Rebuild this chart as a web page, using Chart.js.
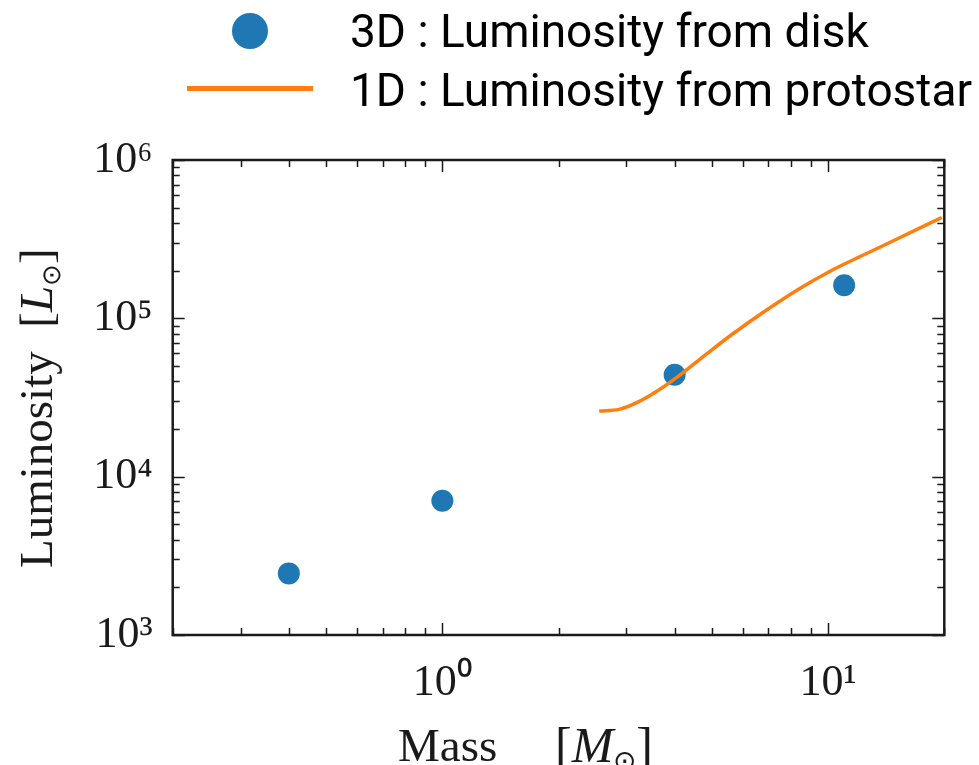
<!DOCTYPE html>
<html>
<head>
<meta charset="utf-8">
<script src="https://cdn.jsdelivr.net/npm/chart.js@4.4.1/dist/chart.umd.min.js"></script>
<style>
  html, body { margin: 0; padding: 0; background: #fff; }
  #wrap { position: relative; width: 979px; height: 765px; overflow: hidden; }
  #grafica { position: absolute; left: 0; top: 0; }
  .leg { position: absolute; font-family: Roboto, sans-serif; font-size: 46px; line-height: 46px; color: #000; white-space: nowrap; }
  .serif { position: absolute; font-family: "Liberation Serif", serif; font-size: 47px; line-height: 47px; color: #1a1a1a; white-space: nowrap; }
  .serif sub { font-size: 0.55em; line-height: 0; vertical-align: -0.3em; }
  #ytitle { left: 13px; top: 568px; transform-origin: 0 0; transform: rotate(-90deg); }
</style>
</head>
<body>
<div id="wrap">
  <canvas id="grafica" width="979" height="765"></canvas>

  <!-- leyenda -->
  <div style="position:absolute; left:232px; top:13px; width:36px; height:36px; border-radius:50%; background:#1f77b4;"></div>
  <div class="leg" style="left:350px; top:8px;">3D : Luminosity from disk</div>
  <div style="position:absolute; left:187px; top:86px; width:126px; height:5px; background:#ff7f0e;"></div>
  <div class="leg" style="left:350px; top:67px;">1D : Luminosity from protostar</div>

  <!-- titulos de ejes -->
  <div class="serif" style="left:398px; top:722px;">Mass</div>
  <div class="serif" style="left:555px; top:720px; font-size:50px; line-height:50px;">[<i>M</i><sub>⊙</sub>]</div>
  <div class="serif" id="ytitle">Luminosity&nbsp;&nbsp;[<i>L</i><sub>⊙</sub>]</div>
</div>

<script>
// Datos: 3D (disco)
const diskMass = [0.4, 1, 4, 11];
const diskLum = [2450, 7050, 44000, 162000];

// Datos: 1D (protoestrella)
const protoMass = [2.55, 2.87, 3.23, 3.64, 4.02, 4.44, 4.86, 5.64, 6.88, 8.40, 10.2, 12.3, 14.8, 19.7];
const protoLum = [26000, 26600, 29800, 35300, 41800, 50400, 60000, 79300, 111600, 153200, 200600, 250200, 310200, 433500];

// Rangos y marcas de los ejes
const xRange = [0.2, 20];
const yRange = [1e3, 1e6];
const xMajorTicks = [1, 10];
const yMajorTicks = [1e3, 1e4, 1e5, 1e6];
const xMinorTicks = [0.2, 0.3, 0.4, 0.5, 0.6, 0.7, 0.8, 0.9, 2, 3, 4, 5, 6, 7, 8, 9, 20];
const yMinorTicks = [2e3, 3e3, 4e3, 5e3, 6e3, 7e3, 8e3, 9e3,
                     2e4, 3e4, 4e4, 5e4, 6e4, 7e4, 8e4, 9e4,
                     2e5, 3e5, 4e5, 5e5, 6e5, 7e5, 8e5, 9e5];

const sup = { '-': '⁻', '0': '⁰', '1': '¹', '2': '²', '3': '³', '4': '⁴', '5': '⁵', '6': '⁶', '7': '⁷', '8': '⁸', '9': '⁹' };
function powLabel(value) {
    const e = String(Math.round(Math.log10(value)));
    return '10' + e.split('').map(c => sup[c]).join('');
}

// Marco y marcas hacia dentro (estilo matplotlib)
const frameTicks = {
    id: 'frameTicks',
    afterDatasetsDraw(chart) {
        const { ctx, chartArea: a, scales } = chart;
        ctx.save();
        ctx.strokeStyle = '#1a1a1a';
        ctx.lineWidth = 1.5;
        const drawX = (vals, len) => vals.forEach(v => {
            const px = Math.round(scales.x.getPixelForValue(v)) + 0.5;
            ctx.beginPath();
            ctx.moveTo(px, a.bottom); ctx.lineTo(px, a.bottom - len);
            ctx.moveTo(px, a.top); ctx.lineTo(px, a.top + len);
            ctx.stroke();
        });
        const drawY = (vals, len) => vals.forEach(v => {
            const py = Math.round(scales.y.getPixelForValue(v)) + 0.5;
            ctx.beginPath();
            ctx.moveTo(a.left, py); ctx.lineTo(a.left + len, py);
            ctx.moveTo(a.right, py); ctx.lineTo(a.right - len, py);
            ctx.stroke();
        });
        drawX(xMajorTicks, 12);
        drawX(xMinorTicks, 7);
        drawY(yMajorTicks, 12);
        drawY(yMinorTicks, 7);
        ctx.lineWidth = 2.5;
        ctx.strokeRect(a.left, a.top, a.right - a.left, a.bottom - a.top);
        ctx.restore();
    }
};

const tickFont = { family: 'Liberation Serif', size: 44 };

const canvas = document.getElementById('grafica');
const chart = new Chart(canvas.getContext('2d'), {
    type: 'scatter',
    data: {
        datasets: [
            {
                label: '3D : Luminosity from disk',
                data: diskMass.map((m, i) => ({ x: m, y: diskLum[i] })),
                backgroundColor: '#1f77b4',
                borderWidth: 0,
                pointRadius: 11,
                pointHoverRadius: 11,
                order: 1
            },
            {
                label: '1D : Luminosity from protostar',
                type: 'line',
                data: protoMass.map((m, i) => ({ x: m, y: protoLum[i] })),
                borderColor: '#ff7f0e',
                borderWidth: 3.5,
                pointRadius: 0,
                fill: false,
                cubicInterpolationMode: 'monotone',
                order: 0
            }
        ]
    },
    options: {
        responsive: false,
        animation: false,
        devicePixelRatio: 1,
        layout: { padding: { left: 0, top: 160, right: 34.7, bottom: 0 } },
        plugins: { legend: { display: false }, tooltip: { enabled: false } },
        scales: {
            x: {
                type: 'logarithmic',
                min: xRange[0],
                max: xRange[1],
                afterFit: s => { s.height = 130; },
                afterBuildTicks: s => { s.ticks = xMajorTicks.map(v => ({ value: v })); },
                grid: { display: false },
                border: { display: false },
                ticks: { font: tickFont, color: '#1a1a1a', padding: 14, maxRotation: 0, autoSkip: false, callback: powLabel }
            },
            y: {
                type: 'logarithmic',
                min: yRange[0],
                max: yRange[1],
                afterFit: s => { s.width = 172.7; },
                afterBuildTicks: s => { s.ticks = yMajorTicks.map(v => ({ value: v })); },
                grid: { display: false },
                border: { display: false },
                ticks: { font: tickFont, color: '#1a1a1a', padding: 12, autoSkip: false, callback: powLabel }
            }
        }
    },
    plugins: [frameTicks]
});
</script>
</body>
</html>
